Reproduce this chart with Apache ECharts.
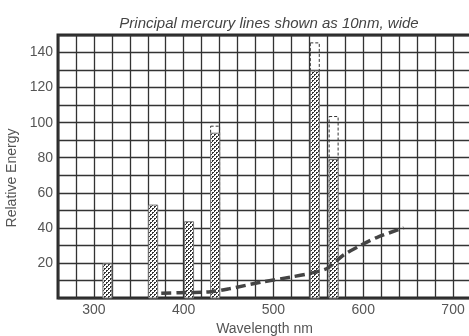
<!DOCTYPE html>
<html>
<head>
<meta charset="utf-8">
<script src="https://cdn.jsdelivr.net/npm/echarts@6/dist/echarts.min.js"></script>
<style>
  html, body { margin: 0; padding: 0; background: #fff; }
  #chart { width: 469px; height: 336px; }
</style>
</head>
<body>
<div id="chart"></div>
<script>
// mercury lines, drawn 10 nm wide
const lineNm = [315, 366, 406, 435, 546, 567];
const lineEnergy = [19.5, 53, 43.5, 94, 129.5, 79];
// dashed outlines above some of the lines
const outlineNm = [435, 546, 567];
const outlineEnergy = [98, 145.5, 103.5];
// dashed curve
const curveNm = [375, 395, 430, 450, 488, 520, 540, 560, 578, 597, 615, 645];
const curveEnergy = [2.7, 3, 3.6, 5.2, 9.2, 12, 14, 17, 24.5, 30, 34.5, 40];
const xLabels = [300, 400, 500, 600, 700];
const yLabels = [20, 40, 60, 80, 100, 120, 140];

const halfWidth = 5;
const font = 'Liberation Sans';

// stipple fill
const dots = document.createElement('canvas');
dots.width = 4;
dots.height = 4;
const dctx = dots.getContext('2d');
dctx.fillStyle = '#fff';
dctx.fillRect(0, 0, 4, 4);
dctx.fillStyle = '#333';
dctx.fillRect(0, 0, 2, 2);
dctx.fillRect(2, 2, 2, 2);
dctx.fillStyle = '#fff';
dctx.fillRect(1, 1, 1, 1);
dctx.fillRect(3, 3, 1, 1);

function barRenderer(fill, stroke, dash) {
  return function (params, api) {
    const x = api.value(0);
    const v = api.value(1);
    const p1 = api.coord([x - halfWidth, v]);
    const p2 = api.coord([x + halfWidth, 0]);
    return {
      type: 'rect',
      shape: { x: p1[0], y: p1[1], width: p2[0] - p1[0], height: p2[1] - p1[1] },
      style: { fill: fill, stroke: stroke, lineWidth: 1, lineDash: dash }
    };
  };
}

const myChart = echarts.init(document.getElementById('chart'));
const option = {
  animation: false,
  title: {
    text: 'Principal mercury lines shown as 10nm, wide',
    left: 264,
    top: 11,
    textAlign: 'center',
    textStyle: { fontFamily: font, fontSize: 15, fontStyle: 'italic', fontWeight: 'normal', color: '#444' }
  },
  grid: {
    left: 58,
    right: -2,
    top: 35,
    bottom: 38,
    outerBoundsMode: 'none',
    containLabel: false,
    show: true,
    borderColor: '#2a2a2a',
    borderWidth: 3
  },
  xAxis: {
    type: 'value',
    min: 260,
    max: 720,
    interval: 20,
    name: 'Wavelength nm',
    nameLocation: 'middle',
    nameGap: 20,
    nameTextStyle: { fontFamily: font, fontSize: 14, color: '#555' },
    axisLine: { show: false },
    axisTick: { show: false },
    axisLabel: {
      fontFamily: font, fontSize: 14, color: '#555', margin: 5,
      formatter: (v) => (xLabels.includes(v) ? String(v) : '')
    },
    splitLine: { lineStyle: { color: '#333', width: 1.3 } }
  },
  yAxis: {
    type: 'value',
    min: 0,
    max: 150,
    interval: 10,
    name: 'Relative Energy',
    nameLocation: 'middle',
    nameGap: 38,
    nameTextStyle: { fontFamily: font, fontSize: 14, color: '#555', padding: [0, 23, 0, 0] },
    axisLine: { show: false },
    axisTick: { show: false },
    axisLabel: {
      fontFamily: font, fontSize: 14, color: '#555', margin: 5,
      formatter: (v) => (yLabels.includes(v) ? String(v) : '')
    },
    splitLine: { lineStyle: { color: '#333', width: 1.3 } }
  },
  series: [
    {
      type: 'custom',
      name: 'outline',
      renderItem: barRenderer('none', '#333', [3, 2]),
      data: outlineNm.map((x, i) => [x, outlineEnergy[i]]),
      z: 2
    },
    {
      type: 'custom',
      name: 'lines',
      renderItem: barRenderer({ image: dots, repeat: 'repeat' }, '#777', null),
      data: lineNm.map((x, i) => [x, lineEnergy[i]]),
      z: 3
    },
    {
      type: 'line',
      name: 'curve',
      data: curveNm.map((x, i) => [x, curveEnergy[i]]),
      smooth: 0.3,
      symbol: 'none',
      lineStyle: { color: '#444', width: 3.5, type: [10, 5] },
      z: 4
    }
  ]
};
option && myChart.setOption(option);
window.addEventListener('resize', () => {
  myChart.resize();
});
</script>
</body>
</html>
